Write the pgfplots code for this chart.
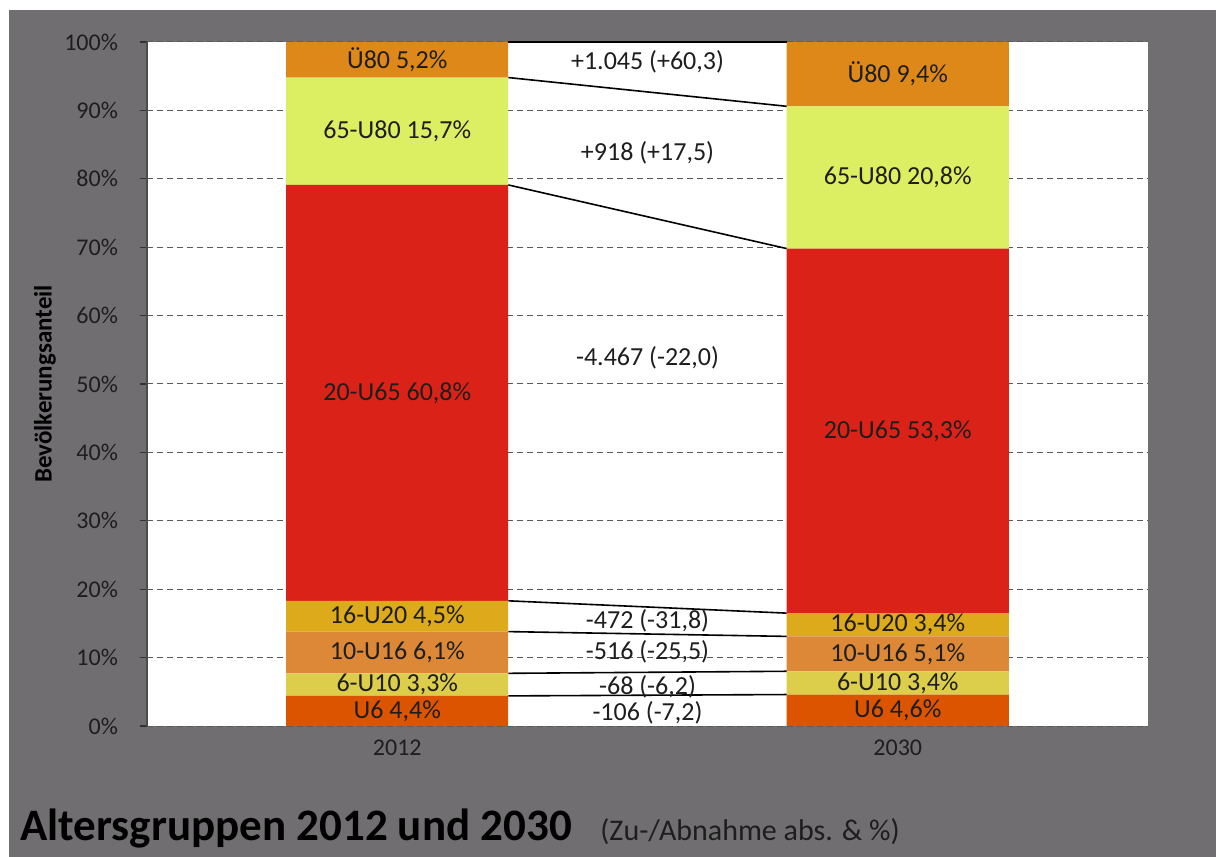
\documentclass[border=0pt]{standalone}
\usepackage{fontspec}
\setmainfont{Carlito}
\usepackage{pgfplots}
\usepackage{pgfplotstable}
\pgfplotsset{compat=1.18}

\definecolor{bggrey}{HTML}{706E70}
\definecolor{txt}{HTML}{1E1E1E}
\definecolor{cUE80}{HTML}{DE881A}
\definecolor{cU80}{HTML}{DCEE62}
\definecolor{cU65}{HTML}{DA2218}
\definecolor{cU20}{HTML}{DCAA1A}
\definecolor{cU16}{HTML}{DC8836}
\definecolor{cU10}{HTML}{DCCE4A}
\definecolor{cU6}{HTML}{DC5400}

% Anteile in Prozent
\pgfplotstableread{
x u6 u10 u16 u20 u65 u80 ue80
0 4.4 3.3 6.1 4.5 60.8 15.7 5.2
1 4.6 3.4 5.1 3.4 53.3 20.8 9.4
}\anteile

% Beschriftungen (Mitte der Segmente, Zu-/Abnahme dazwischen)
\pgfplotstableread{
x y lab
0 2.2 {U6 4,4\%}
0 6.05 {6-U10 3,3\%}
0 10.75 {10-U16 6,1\%}
0 16.05 {16-U20 4,5\%}
0 48.7 {20-U65 60,8\%}
0 86.95 {65-U80 15,7\%}
0 97.4 {Ü80 5,2\%}
1 2.3 {U6 4,6\%}
1 6.3 {6-U10 3,4\%}
1 10.55 {10-U16 5,1\%}
1 14.8 {16-U20 3,4\%}
1 43.15 {20-U65 53,3\%}
1 80.2 {65-U80 20,8\%}
1 95.3 {Ü80 9,4\%}
0.5 97.1 {+1.045 (+60,3)}
0.5 83.8 {+918 (+17,5)}
0.5 53.8 {-4.467 (-22,0)}
0.5 15.4 {-472 (-31,8)}
0.5 10.8 {-516 (-25,5)}
0.5 5.8 {-68 (-6,2)}
0.5 2.0 {-106 (-7,2)}
}\labels

\pgfplotsset{
  base/.style={
    at={(0,0)}, anchor=south west,
    scale only axis, width=500.5pt, height=342pt,
    xmin=-0.5, xmax=1.5, ymin=0, ymax=100,
  },
}

\begin{document}
\begin{tikzpicture}[x=1pt,y=1pt]
\fill[white] (-73.5,-65.5) rectangle (534.5,363);
\fill[bggrey] (-69,-65.5) rectangle (534.5,358);

\begin{axis}[base,
  ybar stacked, bar width=111pt,
  axis background/.style={fill=white},
  axis y line*=left, axis x line*=bottom,
  x axis line style={draw=none},
  y axis line style={draw=gray!60!black, line width=0.7pt},
  xtick={0,1}, xticklabels={2012,2030},
  xtick style={draw=none},
  ytick={0,10,...,100},
  yticklabel={\pgfmathprintnumber{\tick}\%},
  /pgf/number format/assume math mode=true,
  tick align=outside, major tick length=3.5pt,
  ytick style={draw=gray!40!black, line width=0.6pt},
  ticklabel style={font=\fontsize{12}{14}\selectfont, text=txt},
  yticklabel style={xshift=-7.5pt},
  ymajorgrids,
  grid style={densely dashed, gray!70!black, line width=0.5pt},
  ylabel={Bevölkerungsanteil},
  ylabel style={font=\bfseries\fontsize{12.5}{14}\selectfont, text=black,
    at={(axis description cs:-0.102,0.5)}, anchor=center},
]
\addplot[fill=cU6, draw=none] table[x=x,y=u6]{\anteile};
\addplot[fill=cU10, draw=none] table[x=x,y=u10]{\anteile};
\addplot[fill=cU16, draw=none] table[x=x,y=u16]{\anteile};
\addplot[fill=cU20, draw=none] table[x=x,y=u20]{\anteile};
\addplot[fill=cU65, draw=none] table[x=x,y=u65]{\anteile};
\addplot[fill=cU80, draw=none] table[x=x,y=u80]{\anteile};
\addplot[fill=cUE80, draw=none] table[x=x,y=ue80]{\anteile};
\end{axis}

\begin{axis}[base, hide axis, clip=false]
\addplot[black, line width=0.8pt] coordinates {(0.222,4.4) (0.778,4.6)};
\addplot[black, line width=0.8pt] coordinates {(0.222,7.7) (0.778,8.0)};
\addplot[black, line width=0.8pt] coordinates {(0.222,13.8) (0.778,13.1)};
\addplot[black, line width=0.8pt] coordinates {(0.222,18.3) (0.778,16.5)};
\addplot[black, line width=0.8pt] coordinates {(0.222,79.1) (0.778,69.8)};
\addplot[black, line width=0.8pt] coordinates {(0.222,94.8) (0.778,90.6)};
\addplot[black, line width=1.2pt] coordinates {(0.222,100) (0.778,100)};
\addplot[draw=none, mark=none, nodes near coords, point meta=explicit symbolic,
  nodes near coords align=center,
  nodes near coords style={font=\fontsize{13}{15}\selectfont, text=txt, inner sep=0pt}]
  table[x=x,y=y,meta=lab]{\labels};
\end{axis}

\node[anchor=base west, font=\bfseries\fontsize{22.5}{27}\selectfont, text=black, inner sep=0pt]
  at (-63.5,-57) {Altersgruppen 2012 und 2030};
\node[anchor=base west, font=\fontsize{15}{18}\selectfont, text=txt, inner sep=0pt]
  at (226.5,-57) {(Zu-/Abnahme abs. \& \%)};
\end{tikzpicture}
\end{document}
